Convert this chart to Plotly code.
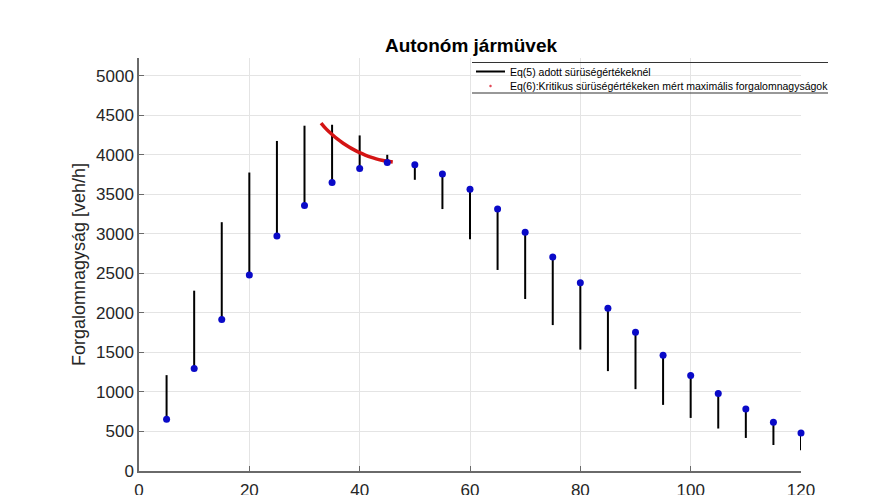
import plotly.graph_objects as go

# Data
density = [5, 10, 15, 20, 25, 30, 35, 40, 45, 50, 55, 60, 65, 70, 75, 80, 85, 90, 95, 100, 105, 110, 115, 120]
flow_points = [655, 1296, 1917, 2478, 2970, 3356, 3648, 3825, 3901, 3873, 3756, 3564, 3314, 3019, 2706, 2381,
               2057, 1753, 1465, 1208, 980, 785, 617, 481]
flow_eq5 = [1212, 2280, 3146, 3774, 4173, 4366, 4378, 4243, 3998, 3682, 3312, 2931, 2542, 2175, 1845, 1535,
            1263, 1035, 836, 671, 537, 418, 329, 262]
crit_density = [33, 34, 35, 36, 37, 38, 39, 40, 41, 42, 43, 44, 45, 46]
crit_flow = [4400, 4320, 4255, 4195, 4145, 4100, 4060, 4025, 3995, 3968, 3947, 3930, 3917, 3907]

title_text = "Autonóm jármüvek"
ylabel = "Forgalomnagyság [veh/h]"
legend_eq5 = "Eq(5) adott sürüségértékeknél"
legend_eq6 = "Eq(6):Kritikus sürüségértékeken mért maximális forgalomnagyságok"

FONT = "Liberation Sans, Arial"

fig = go.Figure()

# vertical segments (Eq 5)
seg_x, seg_y = [], []
for d, a, b in zip(density, flow_points, flow_eq5):
    seg_x += [d, d, None]
    seg_y += [a, b, None]
fig.add_trace(go.Scatter(x=seg_x, y=seg_y, mode="lines", line=dict(color="black", width=2),
                         name=legend_eq5, showlegend=False, cliponaxis=False))
# Eq 6 critical curve
fig.add_trace(go.Scatter(x=crit_density, y=crit_flow, mode="lines",
                         line=dict(color="#d41414", width=3.5, shape="spline"),
                         name=legend_eq6, showlegend=False))
fig.add_trace(go.Scatter(x=density, y=flow_points, mode="markers",
                         marker=dict(color="#0a0ac8", size=7), showlegend=False, cliponaxis=False))

axis_common = dict(showgrid=True, gridcolor="#e4e4e4", gridwidth=1, zeroline=False,
                   showline=True, linecolor="#6a6a6a", linewidth=1.5,
                   ticks="inside", ticklen=5, tickcolor="#6a6a6a", automargin=False,
                   tickfont=dict(family=FONT, size=17, color="#262626"))

fig.update_xaxes(range=[0, 120], tickvals=[0, 20, 40, 60, 80, 100, 120], ticklabelstandoff=3, **axis_common)
fig.update_yaxes(range=[0, 5222], tickvals=[0, 500, 1000, 1500, 2000, 2500, 3000, 3500, 4000, 4500, 5000],
                 title=dict(text=ylabel, font=dict(family=FONT, size=18, color="#262626"), standoff=6),
                 **axis_common)

# Manual legend (paper coords)
def px_x(p):
    return (p - 139) / 662.0

def px_y(p):
    return (471 - p) / 413.0

shapes = [
    dict(type="line", xref="paper", yref="paper", x0=px_x(472), x1=px_x(828), y0=px_y(62.5), y1=px_y(62.5),
         line=dict(color="#333", width=1.2)),
    dict(type="line", xref="paper", yref="paper", x0=px_x(472), x1=px_x(828), y0=px_y(93), y1=px_y(93),
         line=dict(color="#333", width=1.2)),
    dict(type="line", xref="paper", yref="paper", x0=px_x(476), x1=px_x(505), y0=px_y(71.5), y1=px_y(71.5),
         line=dict(color="black", width=2)),
    dict(type="circle", xref="paper", yref="paper", x0=px_x(489.5), x1=px_x(491.5), y0=px_y(85), y1=px_y(87),
         line=dict(color="#e04050", width=0.5), fillcolor="#e04050"),
]
annotations = [
    dict(text=legend_eq5, xref="paper", yref="paper", x=px_x(508), y=px_y(71.5), xanchor="left",
         yanchor="middle", showarrow=False, font=dict(family=FONT, size=10.5, color="black")),
    dict(text=legend_eq6, xref="paper", yref="paper", x=px_x(508), y=px_y(86), xanchor="left",
         yanchor="middle", showarrow=False, font=dict(family=FONT, size=10.5, color="black")),
]

fig.update_layout(
    width=886, height=495,
    margin=dict(l=139, r=85, t=58, b=24),
    paper_bgcolor="white", plot_bgcolor="white",
    showlegend=False,
    title=dict(text="<b>" + title_text + "</b>", x=0.5316, xanchor="center", y=0.909, yanchor="middle",
               font=dict(family=FONT, size=19, color="black")),
    shapes=shapes,
    annotations=annotations,
)

fig.write_html("out.html")
